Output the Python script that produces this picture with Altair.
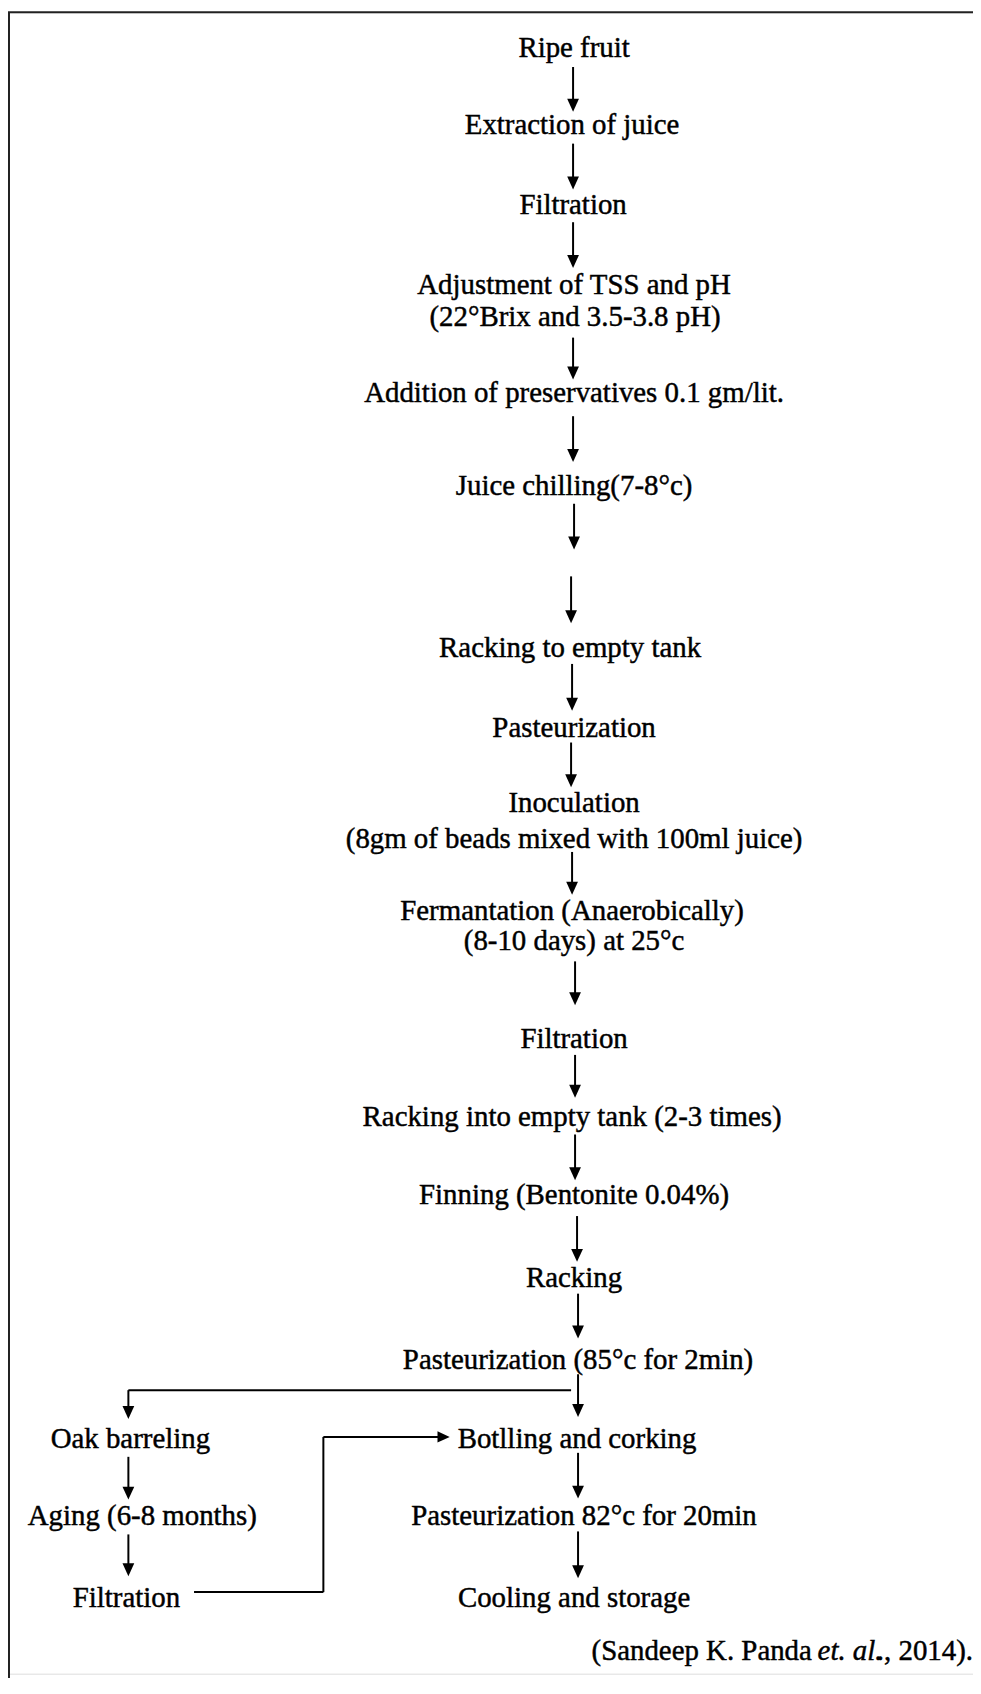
import altair as alt
import pandas as pd

# ---- flow-chart steps (text, x centre, y centre) ----
step_text = [
    "Ripe fruit", "Extraction of juice", "Filtration", "Adjustment of TSS and pH",
    "(22°Brix and 3.5-3.8 pH)", "Addition of preservatives 0.1 gm/lit.",
    "Juice chilling(7-8°c)", "Racking to empty tank", "Pasteurization", "Inoculation",
    "(8gm of  beads mixed with 100ml juice)", "Fermantation (Anaerobically)",
    "(8-10 days) at 25°c", "Filtration", "Racking into empty tank (2-3 times)",
    "Finning (Bentonite 0.04%)", "Racking", "Pasteurization  (85°c for 2min)",
    "Botlling and corking", "Pasteurization 82°c for 20min", "Cooling and storage",
    "Oak barreling", "Aging (6-8 months)", "Filtration",
]
step_x = [577, 575, 576, 577, 578, 577, 577, 573, 577, 577, 577, 575, 577, 577, 575,
          577, 577, 581, 580, 587, 577, 131, 143, 127]
step_y = [44, 121, 202, 282, 314, 391, 484, 647, 727, 803, 839, 911, 942, 1040, 1118,
          1197, 1280, 1363, 1442, 1520, 1602, 1442, 1520, 1602]

# ---- vertical arrows (x, start y, tip y) ----
arrow_x = [576, 576, 576, 576, 576, 577, 574, 575, 574, 575, 578, 578, 578, 580, 581,
           581, 129, 581, 581, 129, 129]
arrow_y0 = [63, 140, 219, 335, 414, 502, 575, 663, 742, 852, 962, 1056, 1136, 1218, 1296,
            1377, 1393, 1456, 1535, 1460, 1538]
arrow_y1 = [108, 186, 265, 377, 460, 548, 622, 710, 787, 895, 1006, 1099, 1182, 1264, 1341,
            1420, 1422, 1502, 1582, 1503, 1580]

# ---- connector lines (x, y, x2, y2) ----
conn_x = [129, 195, 325, 325]
conn_y = [1393, 1596, 1596, 1440]
conn_x2 = [574, 325, 325, 445]
conn_y2 = [1393, 1596, 1440, 1440]
# right-pointing arrow head into "Botlling and corking"
rhead_x = [452]
rhead_y = [1440]

# ---- citation ----
cite_parts = ["(Sandeep K. Panda", "et. al.", "., 2014)."]
cite_style = ["normal", "italic", "normal"]
cite_right = [816, 887, 978]
cite_y = [1655, 1655, 1655]

# ---- frame (top and left edges of the box) ----
frame_x = [8, 9]
frame_y = [8, 8]
frame_x2 = [985, 9]
frame_y2 = [8, 1690]

W, H = 970, 1670
xs = alt.Scale(domain=[8, 8 + W], nice=False, zero=False)
ys = alt.Scale(domain=[8, 8 + H], nice=False, zero=False, reverse=True)
FONT = "Liberation Serif"
FS = 29
TXT = dict(font=FONT, fontSize=FS, baseline="middle", color="black",
           stroke="black", strokeWidth=0.45)

steps = pd.DataFrame({"t": step_text, "x": step_x, "y": step_y})
shafts = pd.DataFrame({"x": arrow_x, "y": arrow_y0, "x2": arrow_x,
                       "y2": [v - 6 for v in arrow_y1]})
heads = pd.DataFrame({"x": arrow_x, "y": arrow_y1})
conns = pd.DataFrame({"x": conn_x, "y": conn_y, "x2": conn_x2, "y2": conn_y2})
rheads = pd.DataFrame({"x": rhead_x, "y": rhead_y})
cite = pd.DataFrame({"t": cite_parts, "s": cite_style, "x": cite_right, "y": cite_y})
frame = pd.DataFrame({"x": frame_x, "y": frame_y, "x2": frame_x2, "y2": frame_y2})

def X(f="x"):
    return alt.X(f + ":Q", scale=xs, axis=None)

def Y(f="y"):
    return alt.Y(f + ":Q", scale=ys, axis=None)

text_layer = alt.Chart(steps).mark_text(align="center", **TXT).encode(
    x=X(), y=Y(), text="t:N")

shaft_layer = alt.Chart(shafts).mark_rule(color="black", strokeWidth=2).encode(
    x=X(), y=Y(), x2="x2:Q", y2="y2:Q")

down_head = alt.Chart(heads).mark_point(
    shape="M-0.5,-1.1L0.5,-1.1L0,0Z", filled=True, size=560, color="black",
    opacity=1, strokeWidth=0
).encode(x=X(), y=Y())

conn_layer = alt.Chart(conns).mark_rule(color="black", strokeWidth=2).encode(
    x=X(), y=Y(), x2="x2:Q", y2="y2:Q")

right_head = alt.Chart(rheads).mark_point(
    shape="M-1.1,-0.5L-1.1,0.5L0,0Z", filled=True, size=500, color="black",
    opacity=1, strokeWidth=0
).encode(x=X(), y=Y())

cite_normal = alt.Chart(cite[cite["s"] == "normal"]).mark_text(
    align="right", **TXT).encode(x=X(), y=Y(), text="t:N")
cite_italic = alt.Chart(cite[cite["s"] == "italic"]).mark_text(
    align="right", fontStyle="italic", **TXT).encode(x=X(), y=Y(), text="t:N")

frame_layer = alt.Chart(frame).mark_rule(color="#222222", strokeWidth=2).encode(
    x=X(), y=Y(), x2="x2:Q", y2="y2:Q")

chart = alt.layer(
    frame_layer, conn_layer, shaft_layer, down_head, right_head,
    text_layer, cite_normal, cite_italic
).properties(
    width=W, height=H, padding=0, autosize=alt.AutoSizeParams(type="none")
).configure_view(stroke=None).configure(background="white")

chart.save("out.html", embed_options={"renderer": "svg", "actions": False})
